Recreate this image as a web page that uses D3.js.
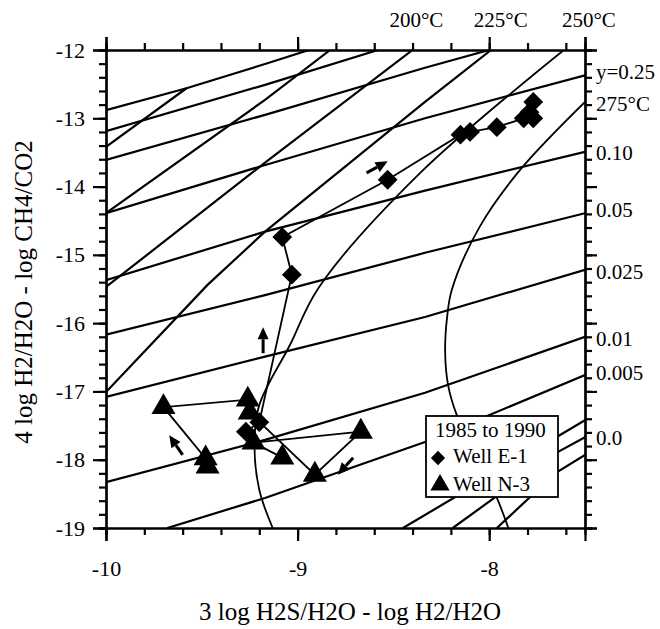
<!DOCTYPE html>
<meta charset="utf-8">
<style>
  body { margin: 0; background: white; }
</style>
<body>
<div id="chart"></div>
<script src="https://d3js.org/d3.v7.min.js"></script>
<script>
// grid lines: shallow "y" lines (vapour fraction) and steep isotherms
const yLines = [
  [[-10,-12.88],[-9.58,-12.56],[-9.17,-12.205],[-8.94,-12]],
  [[-10,-13.19],[-9.17,-12.51],[-8.58,-12]],
  [[-10,-13.61],[-9.17,-12.95],[-8.335,-12.26],[-8.0,-12]],
  [[-10,-14.39],[-9.20,-13.71],[-8.335,-13.0],[-7.5,-12.37]],
  [[-10,-15.37],[-9.17,-14.66],[-8.335,-14.06],[-7.5,-13.49]],
  [[-10,-16.17],[-9.17,-15.59],[-8.335,-14.97],[-7.5,-14.39]],
  [[-10,-17.08],[-9.17,-16.49],[-8.335,-15.91],[-7.5,-15.22]],
  [[-10,-18.33],[-9.17,-17.71],[-8.335,-17.02],[-7.5,-16.20]],
  [[-9.68,-19],[-9.17,-18.56],[-8.335,-17.74],[-7.5,-16.76]],
  [[-8.45,-19],[-7.65,-17.67],[-7.5,-17.42]],
  [[-8.19,-19],[-7.65,-17.90],[-7.5,-17.67]],
  [[-7.96,-19],[-7.65,-18.19],[-7.5,-17.93]]
];
const tLines = [
  [[-10,-13.42],[-9.58,-12.56]],
  [[-10,-14.39],[-9.17,-12.73],[-8.83,-12]],
  [[-10,-15.47],[-9.17,-13.65],[-8.40,-12]],
  [[-10,-17.01],[-9.47,-15.44],[-9.17,-14.66],[-8.335,-12.76],[-7.99,-12]],
  [[-7.61,-12],[-8.36,-13.80],[-8.89,-15.48],[-9.04,-16.32],[-9.20,-17.20],[-9.225,-17.75],[-9.20,-18.44],[-9.13,-19]],
  [[-7.5,-12.76],[-7.84,-13.76],[-8.05,-14.59],[-8.195,-15.51],[-8.22,-15.92],[-8.23,-16.42],[-8.215,-16.90],[-8.17,-17.34],[-8.07,-17.93],[-7.96,-18.56],[-7.90,-19]]
];

// well data, 1985 to 1990
const wellE1 = [
  [-9.27,-17.59],[-9.20,-17.45],[-9.03,-15.29],[-9.08,-14.74],[-8.53,-13.90],
  [-8.15,-13.24],[-8.10,-13.20],[-7.96,-13.13],[-7.82,-13.00],[-7.77,-13.00],
  [-7.79,-12.91],[-7.77,-12.76]
];
const wellN3 = [
  [-9.47,-18.10],[-9.48,-17.98],[-9.70,-17.23],[-9.26,-17.12],[-9.25,-17.31],
  [-8.91,-18.22],[-8.67,-17.59],[-9.23,-17.75],[-9.08,-17.97]
];
const arrows = [
  [[-8.64,-13.80],[-8.53,-13.63]],
  [[-9.18,-16.44],[-9.18,-16.06]],
  [[-9.60,-17.93],[-9.67,-17.64]],
  [[-8.71,-17.97],[-8.79,-18.22]]
];

const xMajor = [-10, -9, -8];
const yMajor = [-19, -18, -17, -16, -15, -14, -13, -12];
const topLabels = [["200°C", -8.38], ["225°C", -7.94], ["250°C", -7.48]];
const rightLabels = [["y=0.25", -12.32], ["275°C", -12.78], ["0.10", -13.51], ["0.05", -14.34],
  ["0.025", -15.25], ["0.01", -16.22], ["0.005", -16.73], ["0.0", -17.68]];
const legendRows = ["Well E-1", "Well N-3"];

const width = 660, height = 629;
const mLeft = 106, mRight = 585, mTop = 50, mBottom = 528;
const serif = "'Liberation Serif', 'Times New Roman', 'DejaVu Serif', serif";

const x = d3.scaleLinear().domain([-10, -7.5]).range([mLeft, mRight]);
const y = d3.scaleLinear().domain([-19, -12]).range([mBottom, mTop]);

const svg = d3.select("#chart").append("svg")
  .attr("width", width).attr("height", height)
  .attr("font-family", serif);

svg.append("clipPath").attr("id", "plot")
  .append("rect").attr("x", mLeft).attr("y", mTop)
  .attr("width", mRight - mLeft).attr("height", mBottom - mTop);

const line = d3.line().x(d => x(d[0])).y(d => y(d[1]));
const curve = d3.line().x(d => x(d[0])).y(d => y(d[1])).curve(d3.curveCatmullRom);

const g = svg.append("g").attr("clip-path", "url(#plot)");

g.selectAll(".yl").data(yLines).join("path")
  .attr("d", line).attr("fill", "none").attr("stroke", "black").attr("stroke-width", 2.2);
g.selectAll(".tl").data(tLines).join("path")
  .attr("d", (d, i) => i >= 4 ? curve(d) : line(d))
  .attr("fill", "none").attr("stroke", "black").attr("stroke-width", (d, i) => i >= 4 ? 1.8 : 2.2);

// data paths
g.append("path").datum(wellE1).attr("d", line)
  .attr("fill", "none").attr("stroke", "black").attr("stroke-width", 1.8);
g.append("path").datum(wellN3).attr("d", line)
  .attr("fill", "none").attr("stroke", "black").attr("stroke-width", 1.8);

const diamond = d3.symbol().type(d3.symbolDiamond2).size(250);
const triangle = d3.symbol().type(d3.symbolTriangle).size(250);

g.selectAll(".e1").data(wellE1).join("path")
  .attr("transform", d => `translate(${x(d[0])},${y(d[1])})`)
  .attr("d", diamond).attr("fill", "black");
g.selectAll(".n3").data(wellN3).join("path")
  .attr("transform", d => `translate(${x(d[0])},${y(d[1])})`)
  .attr("d", triangle).attr("fill", "black");

// little direction arrows
arrows.forEach(a => {
  const x0 = x(a[0][0]), y0 = y(a[0][1]), x1 = x(a[1][0]), y1 = y(a[1][1]);
  const ang = Math.atan2(y1 - y0, x1 - x0);
  const hl = 12, hw = 5.5;
  const bx = x1 - hl * Math.cos(ang), by = y1 - hl * Math.sin(ang);
  g.append("line").attr("x1", x0).attr("y1", y0).attr("x2", bx).attr("y2", by)
    .attr("stroke", "black").attr("stroke-width", 3);
  g.append("path")
    .attr("d", `M${x1},${y1}L${bx - hw * Math.sin(ang)},${by + hw * Math.cos(ang)}L${bx + hw * Math.sin(ang)},${by - hw * Math.cos(ang)}Z`)
    .attr("fill", "black");
});

// axes: major + minor ticks on every side
const xMinor = d3.range(-10, -7.49, 0.2);
const yMinor = d3.range(-19, -11.99, 0.2);

function styleAxis(sel) {
  sel.attr("font-family", serif);
  sel.selectAll("path,line").attr("stroke", "black").attr("stroke-width", 2.2);
  sel.selectAll("text").style("font-size", "22px").style("font-family", serif);
}

svg.append("g").attr("transform", `translate(0,${mBottom})`)
  .call(d3.axisBottom(x).tickValues(xMinor).tickSize(7).tickFormat(""))
  .call(styleAxis);
svg.append("g").attr("transform", `translate(0,${mBottom})`)
  .call(d3.axisBottom(x).tickValues(xMajor).tickSize(13).tickPadding(19).tickFormat(d3.format("d")))
  .call(styleAxis);
svg.append("g").attr("transform", `translate(0,${mTop})`)
  .call(d3.axisTop(x).tickValues(xMinor).tickSize(7).tickFormat(""))
  .call(styleAxis);
svg.append("g").attr("transform", `translate(0,${mTop})`)
  .call(d3.axisTop(x).tickValues(xMajor.concat([-7.5])).tickSize(13).tickFormat(""))
  .call(styleAxis);
svg.append("g").attr("transform", `translate(${mLeft},0)`)
  .call(d3.axisLeft(y).tickValues(yMinor).tickSize(7).tickFormat(""))
  .call(styleAxis);
svg.append("g").attr("transform", `translate(${mLeft},0)`)
  .call(d3.axisLeft(y).tickValues(yMajor).tickSize(13).tickPadding(8).tickFormat(d3.format("d")))
  .call(styleAxis);
svg.append("g").attr("transform", `translate(${mRight},0)`)
  .call(d3.axisRight(y).tickValues(yMinor).tickSize(7).tickFormat(""))
  .call(styleAxis);
svg.append("g").attr("transform", `translate(${mRight},0)`)
  .call(d3.axisRight(y).tickValues(yMajor).tickSize(12).tickFormat(""))
  .call(styleAxis);

// the minus signs in the scan are short hyphens
svg.selectAll(".tick text").text(function () { return d3.select(this).text().replace("−", "-"); });

// isotherm labels on top, y labels on the right
svg.selectAll(".toplab").data(topLabels).join("text")
  .attr("x", d => x(d[1])).attr("y", 27)
  .attr("text-anchor", "middle").style("font-size", "21px").style("font-family", serif)
  .text(d => d[0]);
svg.selectAll(".rlab").data(rightLabels).join("text")
  .attr("x", mRight + 11).attr("y", d => y(d[1])).attr("dy", "0.35em")
  .style("font-size", "21px").style("font-family", serif)
  .text(d => d[0]);

// axis titles
svg.append("text").attr("x", 350).attr("y", 620).attr("text-anchor", "middle")
  .style("font-size", "25px").style("font-family", serif).text("3 log H2S/H2O - log H2/H2O");
svg.append("text").attr("transform", "translate(32,292) rotate(-90)").attr("text-anchor", "middle")
  .style("font-size", "25px").style("font-family", serif).text("4 log H2/H2O - log CH4/CO2");

// legend
const lg = svg.append("g").attr("transform", "translate(426,416)");
lg.append("rect").attr("width", 132).attr("height", 81)
  .attr("fill", "white").attr("stroke", "black").attr("stroke-width", 1.8);
lg.append("text").attr("x", 9).attr("y", 21).style("font-size", "21px").style("font-family", serif).text("1985 to 1990");
lg.selectAll(".lrow").data(legendRows).join("text")
  .attr("x", 27).attr("y", (d, i) => 47 + i * 28)
  .style("font-size", "21px").style("font-family", serif).text(d => d);
lg.append("path").attr("transform", "translate(12,42)")
  .attr("d", d3.symbol().type(d3.symbolDiamond2).size(130)).attr("fill", "black");
lg.append("path").attr("transform", "translate(14,69)")
  .attr("d", d3.symbol().type(d3.symbolTriangle).size(160)).attr("fill", "black");
</script>
</body>
